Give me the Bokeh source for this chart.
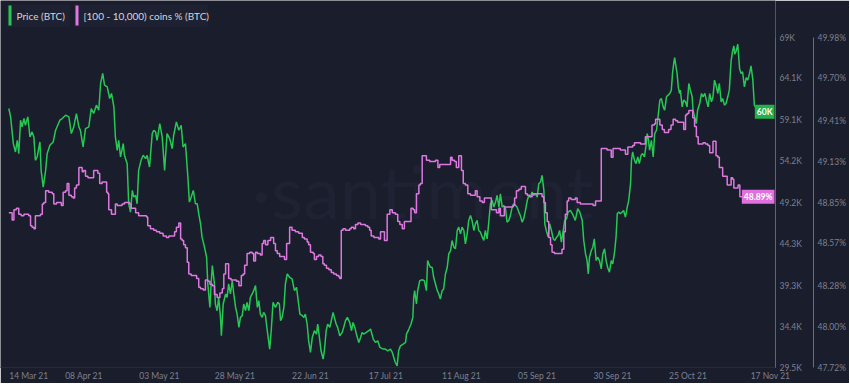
import pandas as pd
from bokeh.plotting import figure
from bokeh.models import (Range1d, LinearAxis, FixedTicker, Label, BoxAnnotation,
                          PrintfTickFormatter)
from bokeh.embed import file_html
from bokeh.resources import INLINE

# ---------------- data ----------------
start_date = "2021-03-14"

x_tick_dates = ["2021-03-14", "2021-04-08", "2021-05-03", "2021-05-28", "2021-06-22", "2021-07-17",
                "2021-08-11", "2021-09-05", "2021-09-30", "2021-10-25", "2021-11-17"]
x_tick_labels = ["14 Mar 21", "08 Apr 21", "03 May 21", "28 May 21", "22 Jun 21", "17 Jul 21",
                 "11 Aug 21", "05 Sep 21", "30 Sep 21", "25 Oct 21", "17 Nov 21"]

price_ticks = [29.5, 34.4, 39.3, 44.3, 49.2, 54.2, 59.1, 64.1, 69.0]
price_tick_labels = ["29.5K", "34.4K", "39.3K", "44.3K", "49.2K", "54.2K", "59.1K", "64.1K", "69K"]
pct_ticks = [47.72, 48.00, 48.28, 48.57, 48.85, 49.13, 49.41, 49.70, 49.98]

series_names = ["Price (BTC)", "[100 - 10,000) coins % (BTC)"]

# days after 14 Mar 2021
price_day = [0.1, 0.7, 1.6, 2.3, 2.9, 3.4, 4.0, 4.5, 5.1, 5.6, 6.4, 7.1, 7.8, 8.4, 8.9, 9.5, 10.4, 10.8,
             11.5, 12.3, 12.8, 13.7, 14.8, 15.6, 16.3, 17.0, 17.8, 18.9, 20.0, 20.8, 21.6, 22.5, 23.3,
             23.8, 24.7, 25.5, 26.6, 27.4, 28.2, 29.1, 29.9, 30.5, 31.2, 31.8, 32.7, 33.5, 34.1, 34.9,
             35.4, 36.0, 36.5, 37.1, 38.0, 38.4, 39.3, 39.8, 40.4, 41.0, 41.5, 42.1, 42.6, 43.1, 43.9,
             44.6, 45.4, 45.9, 46.7, 47.6, 48.1, 48.7, 49.2, 50.1, 50.9, 51.7, 52.5, 53.4, 54.2, 54.7,
             55.6, 56.4, 57.2, 57.8, 58.6, 59.4, 59.9, 60.5, 61.2, 61.9,
             62.5, 63.0, 63.6, 64.1, 64.9, 65.6, 66.0, 66.3, 66.7, 67.1, 67.5, 68.2, 68.5, 69.1, 69.6,
             70.2, 70.5, 71.1, 71.9, 72.4, 72.9, 73.5, 74.1, 74.6, 75.2, 75.7, 76.3, 76.8, 77.4, 77.9,
             78.5, 79.0, 79.6, 80.1, 80.7, 81.2, 81.8, 82.4, 82.9, 83.4, 84.0, 84.5, 85.1, 85.7, 86.5,
             87.0, 87.6, 88.4, 89.2, 89.7, 90.1, 90.6, 91.2, 91.7, 92.3, 93.1, 93.9, 94.7, 95.4, 95.8,
             96.5, 97.3, 97.8, 98.3, 98.9, 99.4, 100.0, 100.6, 101.3, 102.0, 102.4, 103.1, 103.5, 104.2,
             104.6, 105.2, 105.7, 106.4, 106.9, 107.5, 107.9, 108.5, 109.0, 109.7, 110.5, 111.0, 111.6,
             112.2, 113.0, 113.6, 114.1, 114.7, 115.2, 116.0, 116.6, 117.1, 117.6, 118.5, 119.3, 119.9,
             120.8, 121.5, 122.3, 123.0, 124.1, 124.8, 125.6, 126.5, 127.1, 127.6, 128.1, 128.7, 129.2,
             129.8, 130.7, 131.5, 131.8, 132.6, 133.3, 133.9, 134.2, 134.5, 135.1, 135.5, 136.2, 137.0,
             137.7, 138.4, 138.8, 139.2, 139.7, 140.3, 140.8, 141.4, 142.0, 142.5, 143.0, 143.6, 144.1,
             144.7, 145.3, 145.8, 146.4, 146.9, 147.5, 148.0, 148.6, 149.1, 149.7, 150.2, 150.8, 151.3,
             151.9, 152.4, 153.0, 153.5, 154.1, 154.6, 155.2, 155.7, 156.3, 156.9, 157.4, 157.9, 158.5,
             159.0, 159.6, 160.2, 160.7, 161.3, 161.8, 162.4, 162.9, 163.5, 164.0, 164.6, 165.1, 165.7,
             166.2, 166.8, 167.3, 167.9, 168.4, 169.0, 169.5, 170.1, 170.6, 171.2, 171.8, 172.3, 172.8,
             173.4, 173.9, 174.5, 175.1, 175.6, 176.2, 176.7, 177.3, 177.6, 178.1, 178.7, 179.2, 179.8,
             180.4, 180.9, 181.5, 182.0, 182.5, 183.1, 183.7, 184.2, 184.8, 185.3, 186.1, 187.0, 187.7,
             188.5, 189.2, 190.0, 190.5, 191.1, 191.6, 192.0, 192.4, 193.0, 193.5, 194.0, 194.6, 195.1,
             195.7, 196.3, 196.8, 197.4, 197.9, 198.4, 199.0, 199.6, 200.1, 200.7, 201.2, 201.6, 202.1,
             202.6, 203.2, 203.7, 204.3, 204.9, 205.4, 206.0, 206.3, 206.7, 207.3, 207.8, 208.4, 208.9,
             209.5, 210.0, 210.6, 211.2, 211.5, 211.8, 212.3, 212.9, 213.5, 214.0, 214.6, 215.1, 215.7,
             216.2, 216.8, 217.3, 217.9, 218.4, 219.0, 219.5, 219.9, 220.3, 220.6, 221.1, 221.4, 221.8,
             222.2, 222.5, 223.1, 223.6, 224.2, 224.7, 225.3, 225.8, 226.4, 226.7, 227.2, 227.8, 228.2,
             228.9, 229.5, 230.0, 230.6, 231.1, 231.7, 232.2, 232.8, 233.3, 233.8, 234.3, 234.9, 235.4,
             236.0, 236.5, 237.1, 237.6, 238.2, 238.7, 239.3, 239.8, 240.2, 240.5, 241.0, 241.5, 242.1,
             242.6, 243.1, 243.7, 244.3, 244.8, 245.4, 245.9, 246.5, 247.0, 247.6, 248.1]
price_k = [60.5, 59.5, 56.3, 55.3, 56.7, 55.1, 59.1, 58.3, 59.3, 58.5, 59.5, 57.1, 57.7, 57.1, 54.3, 54.7,
           56.5, 53.1, 51.1, 53.1, 55.1, 56.1, 56.5, 57.9, 58.5, 59.1, 59.3, 59.7, 59.5, 57.5, 58.3, 59.9,
           58.3, 57.9, 55.9, 58.1, 58.3, 60.5, 59.9, 60.9, 60.3, 63.5, 64.7, 63.3, 63.1, 61.7, 62.3, 60.7,
           57.1, 55.5, 56.7, 54.7, 56.3, 54.9, 53.9, 49.1, 48.1, 50.7, 49.9, 50.1, 49.1, 53.1, 54.3, 54.9,
           54.5, 54.9, 53.5, 57.5, 57.9, 57.7, 56.7, 58.7, 57.1, 53.1, 57.5, 56.9, 55.7, 57.3, 58.9, 57.9,
           58.5, 55.9, 56.3, 52.3, 49.3, 49.9, 50.7, 49.1,
           49.1, 47.9, 46.7, 45.1, 43.9, 42.7, 39.5, 38.3, 36.7, 39.5, 41.7, 39.5, 37.1, 36.3, 37.9, 35.5,
           33.3, 37.1, 38.3, 37.9, 39.5, 38.3, 39.9, 38.3, 36.7, 35.9, 34.3, 35.5, 35.7, 37.1, 36.3, 37.3,
           36.3, 37.9, 38.3, 38.7, 39.3, 36.7, 37.5, 35.9, 35.5, 36.1, 35.7, 33.9, 31.7, 33.9, 37.3, 36.7,
           37.3, 37.1, 35.1, 35.5, 36.7, 39.5, 40.7, 40.3, 40.1, 38.7, 39.1, 37.9, 35.9, 35.7, 35.5, 35.9,
           34.7, 32.7, 31.3, 33.1, 33.9, 33.5, 34.7, 32.7, 31.5, 30.5, 31.5, 33.9, 34.7, 34.3, 35.1, 36.1,
           35.5, 34.7, 34.3, 33.3, 33.7, 34.3, 35.1, 35.5, 34.9, 33.9, 34.9, 34.3, 33.5, 32.5, 33.1, 33.7,
           33.5, 33.7, 33.9, 34.1, 32.9, 32.5, 32.7, 31.9, 31.7, 31.7, 31.5, 31.7, 31.3, 30.7, 30.1, 29.7,
           31.5, 32.1, 32.3, 32.5, 33.5, 34.1, 34.7, 35.5, 37.9, 38.7, 37.1, 38.7, 39.9, 40.0, 39.9, 38.7,
           42.3, 41.9, 41.5, 41.5, 40.3, 39.5, 38.7, 38.3, 37.7, 38.7, 38.9, 40.7, 41.5, 43.1, 43.5, 44.7,
           43.9, 43.7, 45.9, 46.3, 45.5, 46.3, 45.9, 44.3, 45.5, 47.1, 47.7, 47.1, 45.9, 46.7, 47.1, 45.9,
           45.7, 45.1, 44.7, 45.9, 44.9, 46.7, 49.1, 49.5, 48.7, 49.3, 50.1, 48.7, 50.3, 48.7, 48.9, 48.5,
           46.9, 47.1, 47.7, 48.7, 49.1, 48.9, 48.7, 48.1, 47.7, 46.9, 47.3, 48.3, 49.5, 50.1, 49.9, 50.5,
           50.1, 50.3, 49.9, 51.5, 51.7, 52.5, 50.7, 46.7, 45.9, 45.1, 46.7, 45.9, 44.9, 44.7, 45.1, 45.3,
           45.9, 44.5, 45.9, 47.1, 47.3, 48.1, 48.3, 47.7, 47.1, 48.5, 48.1, 47.1, 44.7, 43.1, 42.3, 40.7,
           42.7, 43.5, 43.9, 44.9, 42.3, 42.7, 42.3, 41.3, 43.1, 43.7, 42.3, 41.5, 40.9, 42.3, 41.9, 43.3,
           45.1, 47.9, 48.1, 47.9, 48.1, 48.3, 47.5, 48.7, 49.5, 51.5, 54.3, 55.3, 54.3, 53.9, 54.7, 53.9,
           54.9, 55.1, 54.7, 56.3, 57.5, 57.1, 55.5, 56.7, 54.7, 57.5, 57.9, 59.5, 61.5, 61.7, 60.7, 60.3,
           61.9, 62.1, 62.3, 62.7, 64.7, 65.9, 66.6, 65.4, 64.7, 63.1, 62.3, 62.7, 60.7, 61.5, 61.3, 60.7,
           63.5, 62.7, 61.9, 60.3, 59.5, 58.7, 60.3, 61.1, 62.3, 61.9, 62.3, 61.5, 60.7, 62.3, 61.3, 61.9,
           63.9, 63.3, 62.3, 63.5, 61.3, 61.7, 60.9, 61.1, 61.9, 62.7, 66.2, 67.4, 68.0, 67.0, 67.4, 68.2,
           65.3, 64.7, 64.9, 63.1, 64.2, 63.9, 64.7, 65.6, 63.9, 60.9, 60.5, 60.1]

pct_day = [0.1, 1.2, 1.8, 2.6, 3.4, 4.2, 5.1, 6.7, 7.3, 7.8, 8.4, 8.9, 10.6, 11.2, 11.7, 12.3, 13.3, 14.5,
           15.0, 15.9, 16.7, 17.5, 18.1, 18.9, 19.4, 20.0, 20.8, 21.4, 21.9, 22.5, 23.3, 23.8, 24.4, 24.9,
           25.5, 26.3, 27.7, 28.2, 29.0, 29.6, 30.2, 31.0, 31.8, 32.5, 32.9, 33.2, 34.1, 34.9, 35.4, 36.0,
           36.9, 37.6, 38.4, 39.3, 40.1, 40.6, 41.3, 42.1, 43.1, 44.3, 45.7, 46.1, 47.0, 48.1, 49.0, 50.1,
           51.2, 52.3, 53.1, 54.2, 55.0, 55.6, 56.4, 57.0, 57.5, 58.0, 58.6, 59.2, 59.7, 60.5, 61.4, 62.3,
           63.0, 63.6, 64.5, 65.2, 66.0, 66.7, 67.5, 68.2, 69.1, 70.0, 70.8, 71.3, 71.9, 72.4, 72.9, 73.7,
           74.6, 75.5, 76.3, 77.1, 77.7, 78.2, 79.0, 79.9, 80.7, 81.2, 81.8, 82.4, 83.4, 84.0, 84.5, 85.1,
           85.9, 86.8, 87.3, 87.8, 88.4, 89.0, 89.8, 90.6, 91.4, 92.1, 92.6, 93.1, 93.9, 95.0, 96.1, 97.3,
           98.0, 98.9, 99.4, 100.0, 100.9, 101.3, 102.0, 102.7, 103.5, 104.1, 104.6, 105.3, 106.1, 106.9,
           107.7, 108.6, 109.4, 109.7, 110.2, 110.8, 111.6, 112.4, 113.0, 113.5, 114.3, 114.9, 115.7,
           116.6, 117.4, 118.2, 119.0, 119.6, 120.1, 121.0, 121.9, 122.6, 123.2, 124.1, 124.5, 125.4,
           126.3, 127.1, 128.1, 128.9, 129.6, 130.4, 131.1, 132.9, 133.3, 134.0, 134.5, 135.1, 135.9,
           136.4, 137.0, 137.7, 138.4, 139.5, 140.6, 141.4, 142.2, 142.8, 143.9, 145.0, 145.8, 146.4,
           146.9, 147.7, 148.3, 149.1, 149.7, 150.0, 150.6, 151.3, 152.1, 153.0, 153.9, 154.6, 155.2,
           156.1, 156.9, 157.6, 159.4, 159.9, 160.7, 161.6, 162.4, 162.9, 163.5, 164.2, 167.1, 167.6,
           168.2, 169.0, 169.8, 170.6, 171.2, 171.8, 172.6, 173.4, 175.9, 176.7, 177.3, 177.8, 178.4,
           178.9, 179.5, 180.0, 180.8, 182.8, 183.3, 183.9, 184.4, 185.0, 185.5, 186.3, 187.7, 188.3,
           189.4, 193.6, 194.4, 196.0, 196.3, 198.2, 199.1, 199.6, 200.2, 202.6, 203.7, 204.3, 205.1,
           206.0, 206.7, 207.3, 209.3, 210.9, 212.6, 213.1, 213.9, 214.3, 215.0, 215.7, 216.5, 217.2,
           217.9, 218.6, 219.4, 220.1, 220.9, 221.6, 223.1, 223.6, 224.2, 224.7, 225.3, 226.1, 226.6,
           227.2, 227.8, 228.4, 229.1, 230.0, 230.8, 231.6, 232.2, 233.0, 233.3, 233.9, 234.3, 234.9,
           235.4, 236.0, 236.5, 237.4, 238.0, 238.7, 239.3, 239.8, 240.2, 241.0, 241.6, 242.2, 242.9,
           243.5, 244.3, 244.9, 245.4, 246.0, 246.6, 247.1, 247.9]
pct_val = [48.78, 48.73, 48.80, 48.81, 48.77, 48.76, 48.77, 48.76, 48.69, 48.68, 48.67, 48.76, 48.77,
           48.84, 48.85, 48.93, 48.92, 48.91, 48.84, 48.85, 48.85, 48.83, 48.92, 48.93, 48.98, 48.90,
           48.89, 48.88, 48.95, 48.97, 49.09, 49.09, 49.06, 49.07, 49.03, 49.02, 49.02, 49.07, 49.07,
           49.05, 48.98, 48.99, 48.99, 48.92, 48.91, 48.80, 48.77, 48.77, 48.84, 48.83, 48.83, 48.84,
           48.85, 48.85, 48.84, 48.81, 48.81, 48.78, 48.76, 48.76, 48.75, 48.69, 48.67, 48.66, 48.65,
           48.64, 48.62, 48.61, 48.62, 48.62, 48.65, 48.68, 48.71, 48.60, 48.59, 48.56, 48.54, 48.44,
           48.36, 48.35, 48.35, 48.33, 48.27, 48.26, 48.25, 48.32, 48.31, 48.29, 48.28, 48.22, 48.20,
           48.23, 48.26, 48.36, 48.43, 48.43, 48.33, 48.32, 48.32, 48.31, 48.28, 48.35, 48.36, 48.42,
           48.50, 48.51, 48.50, 48.45, 48.51, 48.50, 48.49, 48.57, 48.59, 48.56, 48.59, 48.61, 48.61,
           48.57, 48.52, 48.50, 48.48, 48.48, 48.46, 48.57, 48.57, 48.68, 48.66, 48.65, 48.64, 48.61,
           48.60, 48.58, 48.56, 48.51, 48.50, 48.46, 48.48, 48.49, 48.48, 48.43, 48.42, 48.40, 48.39,
           48.37, 48.36, 48.35, 48.34, 48.33, 48.66, 48.67, 48.66, 48.66, 48.67, 48.68, 48.67, 48.70,
           48.71, 48.70, 48.70, 48.69, 48.68, 48.66, 48.62, 48.61, 48.61, 48.60, 48.65, 48.65, 48.59,
           48.77, 48.80, 48.78, 48.77, 48.72, 48.70, 48.67, 48.72, 48.72, 48.81, 48.80, 48.78, 48.91,
           48.97, 48.98, 49.17, 49.17, 49.14, 49.13, 49.13, 49.14, 49.09, 49.11, 49.11, 49.11, 49.11,
           49.16, 49.14, 49.13, 49.09, 49.17, 49.17, 49.07, 48.98, 48.97, 48.91, 48.90, 48.90, 48.93,
           48.89, 48.86, 48.85, 48.88, 48.88, 48.80, 48.80, 48.78, 48.81, 48.76, 48.76, 48.82, 48.83,
           48.88, 48.93, 48.94, 48.96, 48.96, 48.91, 48.90, 48.89, 48.91, 48.91, 48.89, 48.85, 48.78,
           48.72, 48.61, 48.56, 48.51, 48.50, 48.50, 48.53, 48.65, 48.77, 48.86, 48.88, 48.87, 48.88,
           48.85, 48.84, 48.83, 48.86, 48.86, 49.22, 49.21, 49.21, 49.16, 49.22, 49.21, 49.21, 49.18,
           49.23, 49.23, 49.24, 49.26, 49.25, 49.30, 49.30, 49.38, 49.39, 49.42, 49.42, 49.38, 49.35,
           49.33, 49.33, 49.35, 49.38, 49.42, 49.41, 49.40, 49.40, 49.35, 49.45, 49.46, 49.48, 49.48,
           49.43, 49.37, 49.30, 49.25, 49.25, 49.26, 49.25, 49.24, 49.19, 49.19, 49.27, 49.27, 49.17,
           49.16, 49.09, 49.09, 49.03, 49.03, 48.97, 48.97, 49.02, 49.01, 48.95, 48.95, 48.97, 48.89,
           48.89, 48.93, 48.92, 48.90, 48.90, 48.93, 48.93, 48.89, 48.89]

# ---------------- styling ----------------
BG = "#1a1d2b"
GREEN = "#26c953"
PINK = "#dc78e0"
GREEN_AXIS = "#2c8a45"
PINK_AXIS = "#9a4ca6"
TICK_COLOR = "#7c8192"
FONT = "Lato"
TICK_SIZE = "8.5px"
NB = "\u00a0"

start = pd.Timestamp(start_date)
price_x = [start + pd.Timedelta(days=d) for d in price_day]
pct_x = [start + pd.Timedelta(days=d) for d in pct_day]

FW, FH = 775, 367          # frame: includes a header band above the 69K line
HEAD = 37                  # header band height in px (legend lives there)
p_lo, p_hi = price_ticks[0], price_ticks[-1]
q_lo, q_hi = pct_ticks[0], pct_ticks[-1]
p_top = p_hi + (p_hi - p_lo) * HEAD / (FH - HEAD)
q_top = q_hi + (q_hi - q_lo) * HEAD / (FH - HEAD)

p = figure(frame_width=FW, frame_height=FH, x_axis_type="datetime", y_axis_location="right",
           x_range=Range1d((start - pd.Timedelta(days=2.65)).to_pydatetime(),
                           (start + pd.Timedelta(days=254.0)).to_pydatetime()),
           y_range=Range1d(p_lo, p_top),
           output_backend="svg", toolbar_location=None,
           min_border_left=0, min_border_right=4, min_border_top=0, min_border_bottom=0,
           background_fill_color=BG, border_fill_color=BG, outline_line_color=None)
p.extra_y_ranges = {"pct": Range1d(q_lo, q_top)}
p.xgrid.visible = False
p.ygrid.visible = False

# x axis (edge labels padded with no-break spaces so they sit where the reference shows them)
tick_ms = [int(pd.Timestamp(d).value // 10**6) for d in x_tick_dates]
overrides = {t: l for t, l in zip(tick_ms, x_tick_labels)}
overrides[tick_ms[0]] = NB * 4 + x_tick_labels[0]
overrides[tick_ms[-1]] = NB * 12 + x_tick_labels[-1]
xa = p.xaxis[0]
xa.ticker = FixedTicker(ticks=tick_ms)
xa.major_label_overrides = overrides
xa.axis_line_color = "#262a3b"
xa.major_tick_line_color = None
xa.minor_tick_line_color = None
xa.major_tick_out = 0
xa.major_tick_in = 0
xa.major_label_standoff = 3
xa.major_label_text_color = TICK_COLOR
xa.major_label_text_font = FONT
xa.major_label_text_font_size = TICK_SIZE

# price axis (right, inner)
ya = p.yaxis[0]
ya.ticker = FixedTicker(ticks=price_ticks)
ya.bounds = (p_lo, p_hi)
ya.major_label_overrides = {t: l + NB * 4 for t, l in zip(price_ticks, price_tick_labels)}
ya.axis_line_color = GREEN_AXIS
ya.major_tick_line_color = None
ya.minor_tick_line_color = None
ya.major_tick_out = 0
ya.major_tick_in = 0
ya.major_label_standoff = 4
ya.major_label_text_color = TICK_COLOR
ya.major_label_text_font = FONT
ya.major_label_text_font_size = TICK_SIZE

# pct axis (right, outer)
pa = LinearAxis(y_range_name="pct", ticker=FixedTicker(ticks=pct_ticks), bounds=(q_lo, q_hi),
                formatter=PrintfTickFormatter(format="%.2f%%"))
pa.axis_line_color = PINK_AXIS
pa.major_tick_line_color = None
pa.minor_tick_line_color = None
pa.major_tick_out = 0
pa.major_tick_in = 0
pa.major_label_standoff = 4
pa.major_label_text_color = TICK_COLOR
pa.major_label_text_font = FONT
pa.major_label_text_font_size = TICK_SIZE
p.add_layout(pa, "right")

# watermark
p.add_layout(Label(x=422, y=FH - 190, x_units="screen", y_units="screen", text="·santiment",
                   text_align="center", text_baseline="middle", text_font=FONT,
                   text_font_size="74px", text_color="#1f2233", level="underlay"))

# series
p.line(price_x, price_k, line_color=GREEN, line_width=1.5)
p.step(pct_x, pct_val, mode="after", line_color=PINK, line_width=1.5, y_range_name="pct")

# legend chips in the header band (screen units, measured from the frame's bottom)
chips = [(7, 69, GREEN, series_names[0]), (74, 207, PINK, series_names[1])]
for left, right, col, name in chips:
    p.add_layout(BoxAnnotation(left=left, right=right, top=FH - 4, bottom=FH - 26,
                               left_units="screen", right_units="screen",
                               top_units="screen", bottom_units="screen",
                               fill_color="#1e2131", fill_alpha=1.0,
                               line_color="#25293b", line_width=1))
    p.add_layout(BoxAnnotation(left=left + 1, right=left + 4, top=FH - 5, bottom=FH - 25,
                               left_units="screen", right_units="screen",
                               top_units="screen", bottom_units="screen",
                               fill_color=col, fill_alpha=1.0, line_color=None))
    p.add_layout(Label(x=left + 9, y=FH - 15, x_units="screen", y_units="screen", text=name,
                       text_baseline="middle", text_font=FONT, text_font_size="10px",
                       text_color="#d4d6dc"))

# last-value badges at the right edge of the plotting area
p.add_layout(Label(x=FW - 1, y=price_k[-1], x_units="screen", text=f"{price_k[-1]:.0f}K",
                   text_align="right", text_baseline="middle", text_font=FONT,
                   text_font_size="8.5px", text_font_style="bold", text_color="white",
                   background_fill_color="#22b14c", padding=2))
p.add_layout(Label(x=FW - 1, y=pct_val[-1], x_units="screen", y_range_name="pct",
                   text=f"{pct_val[-1]:.2f}%", text_align="right", text_baseline="middle",
                   text_font=FONT, text_font_size="8.5px", text_font_style="bold",
                   text_color="white", background_fill_color="#e06fe0", padding=2))

open("out.html", "w").write(file_html(p, INLINE))
